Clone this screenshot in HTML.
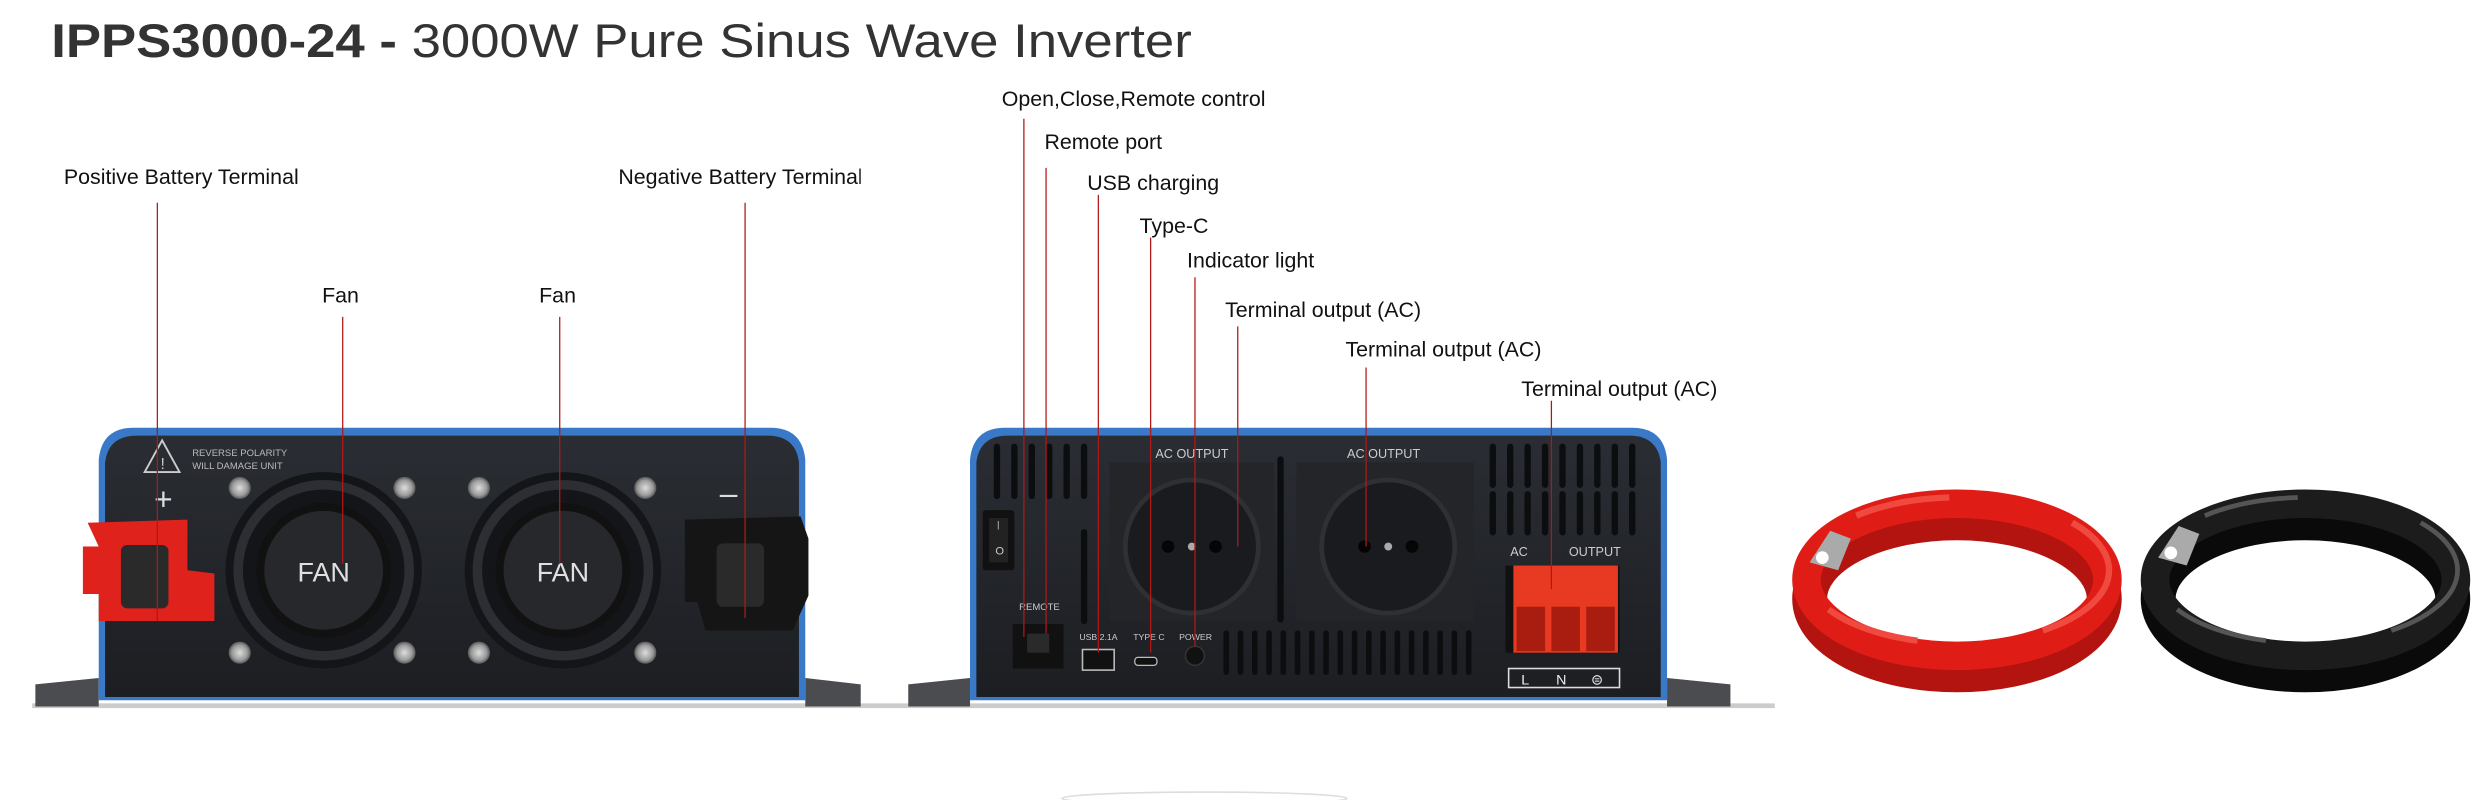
<!DOCTYPE html>
<html><head><meta charset="utf-8"><style>
html,body{margin:0;padding:0;background:#fff;}
svg{display:block;}
text{font-family:"Liberation Sans",sans-serif;}
</style></head><body>
<svg width="2485" height="800" viewBox="0 0 1568 505" xmlns="http://www.w3.org/2000/svg">
<defs>
<linearGradient id="body" x1="0" y1="0" x2="0" y2="1"><stop offset="0" stop-color="#2a2d33"/><stop offset="1" stop-color="#1c1e22"/></linearGradient>
<radialGradient id="screw"><stop offset="0" stop-color="#ddd"/><stop offset="0.7" stop-color="#999"/><stop offset="1" stop-color="#555"/></radialGradient>
</defs>
<rect width="1568" height="505" fill="#fff"/>
<!-- title -->
<text x="32" y="36" font-size="30" fill="#333" textLength="720" lengthAdjust="spacingAndGlyphs"><tspan font-weight="bold">IPPS3000-24 - </tspan>3000W Pure Sinus Wave Inverter</text>

<!-- ground shadows -->
<rect x="20" y="444" width="1100" height="3" fill="#ccc"/>
<ellipse cx="760" cy="504" rx="90" ry="4" fill="none" stroke="#ddd"/>

<!-- LEFT INVERTER -->
<path d="M22 432 L62 428 L62 446 L22 446Z" fill="#4a4c50"/>
<path d="M508 428 L543 432 L543 446 L508 446Z" fill="#4a4c50"/>
<path d="M62 442 L62 290 Q64 270 84 270 L486 270 Q506 270 508 290 L508 442Z" fill="#3a78c8"/>
<path d="M66 440 L66 292 Q68 275 86 275 L484 275 Q502 275 504 292 L504 440Z" fill="url(#body)"/>
<polygon points="102,278 91,298 113,298" fill="none" stroke="#ccc" stroke-width="1.2"/>
<text x="101" y="296" font-size="10" fill="#ccc">!</text>
<text x="121" y="288" font-size="6" fill="#bbb">REVERSE POLARITY</text>
<text x="121" y="296" font-size="6" fill="#bbb">WILL DAMAGE UNIT</text>
<text x="97" y="322" font-size="20" fill="#ddd">+</text>
<text x="454" y="318" font-size="20" fill="#ddd">–</text>
<g>
<circle cx="204" cy="360" r="62" fill="#141518"/>
<circle cx="204" cy="360" r="54" fill="none" stroke="#2c2e33" stroke-width="6"/>
<circle cx="204" cy="360" r="40" fill="#26282c" stroke="#111" stroke-width="5"/>
<text x="204" y="367" font-size="17" fill="#e0e0e0" text-anchor="middle">FAN</text>
<circle cx="355" cy="360" r="62" fill="#141518"/>
<circle cx="355" cy="360" r="54" fill="none" stroke="#2c2e33" stroke-width="6"/>
<circle cx="355" cy="360" r="40" fill="#26282c" stroke="#111" stroke-width="5"/>
<text x="355" y="367" font-size="17" fill="#e0e0e0" text-anchor="middle">FAN</text>
</g>
<g fill="url(#screw)">
<circle cx="151" cy="308" r="7"/><circle cx="255" cy="308" r="7"/><circle cx="151" cy="412" r="7"/><circle cx="255" cy="412" r="7"/>
<circle cx="302" cy="308" r="7"/><circle cx="407" cy="308" r="7"/><circle cx="302" cy="412" r="7"/><circle cx="407" cy="412" r="7"/>
</g>
<path d="M55 330 L118 328 L118 360 L135 362 L135 392 L62 392 L62 375 L52 375 L52 345 L62 345Z" fill="#e0221d"/>
<rect x="76" y="344" width="30" height="40" rx="4" fill="#2a2a2a"/>
<path d="M432 328 L505 326 L510 340 L510 376 L500 398 L445 398 L440 380 L432 380Z" fill="#151515"/>
<rect x="452" y="343" width="30" height="40" rx="4" fill="#2a2a2a"/>

<!-- RIGHT INVERTER -->
<path d="M573 432 L612 428 L612 446 L573 446Z" fill="#4a4c50"/>
<path d="M1052 428 L1092 432 L1092 446 L1052 446Z" fill="#4a4c50"/>
<path d="M612 442 L612 290 Q614 270 634 270 L1030 270 Q1050 270 1052 290 L1052 442Z" fill="#3a78c8"/>
<path d="M616 440 L616 292 Q618 275 636 275 L1028 275 Q1046 275 1048 292 L1048 440Z" fill="url(#body)"/>
<g fill="#0c0d0f">
<rect x="627" y="280" width="4" height="35" rx="2"/><rect x="638" y="280" width="4" height="35" rx="2"/><rect x="649" y="280" width="4" height="35" rx="2"/><rect x="660" y="280" width="4" height="35" rx="2"/><rect x="671" y="280" width="4" height="35" rx="2"/><rect x="682" y="280" width="4" height="35" rx="2"/>
<rect x="682" y="334" width="4" height="60" rx="2"/><rect x="806" y="288" width="4" height="105" rx="2"/>
<rect x="940" y="280" width="4" height="28" rx="2"/><rect x="951" y="280" width="4" height="28" rx="2"/><rect x="962" y="280" width="4" height="28" rx="2"/><rect x="973" y="280" width="4" height="28" rx="2"/><rect x="984" y="280" width="4" height="28" rx="2"/><rect x="995" y="280" width="4" height="28" rx="2"/><rect x="1006" y="280" width="4" height="28" rx="2"/><rect x="1017" y="280" width="4" height="28" rx="2"/><rect x="1028" y="280" width="4" height="28" rx="2"/>
<rect x="940" y="310" width="4" height="28" rx="2"/><rect x="951" y="310" width="4" height="28" rx="2"/><rect x="962" y="310" width="4" height="28" rx="2"/><rect x="973" y="310" width="4" height="28" rx="2"/><rect x="984" y="310" width="4" height="28" rx="2"/><rect x="995" y="310" width="4" height="28" rx="2"/><rect x="1006" y="310" width="4" height="28" rx="2"/><rect x="1017" y="310" width="4" height="28" rx="2"/><rect x="1028" y="310" width="4" height="28" rx="2"/>
</g>
<g fill="#0c0d0f">
<rect x="772" y="398" width="3.5" height="28" rx="1.5"/><rect x="781" y="398" width="3.5" height="28" rx="1.5"/><rect x="790" y="398" width="3.5" height="28" rx="1.5"/><rect x="799" y="398" width="3.5" height="28" rx="1.5"/><rect x="808" y="398" width="3.5" height="28" rx="1.5"/><rect x="817" y="398" width="3.5" height="28" rx="1.5"/><rect x="826" y="398" width="3.5" height="28" rx="1.5"/><rect x="835" y="398" width="3.5" height="28" rx="1.5"/><rect x="844" y="398" width="3.5" height="28" rx="1.5"/><rect x="853" y="398" width="3.5" height="28" rx="1.5"/><rect x="862" y="398" width="3.5" height="28" rx="1.5"/><rect x="871" y="398" width="3.5" height="28" rx="1.5"/><rect x="880" y="398" width="3.5" height="28" rx="1.5"/><rect x="889" y="398" width="3.5" height="28" rx="1.5"/><rect x="898" y="398" width="3.5" height="28" rx="1.5"/><rect x="907" y="398" width="3.5" height="28" rx="1.5"/><rect x="916" y="398" width="3.5" height="28" rx="1.5"/><rect x="925" y="398" width="3.5" height="28" rx="1.5"/>
</g>
<text x="729" y="289" font-size="8" fill="#ccc">AC   OUTPUT</text>
<text x="850" y="289" font-size="8" fill="#ccc">AC   OUTPUT</text>
<rect x="700" y="292" width="104" height="100" fill="#232529"/>
<rect x="818" y="292" width="112" height="100" fill="#232529"/>
<circle cx="752" cy="345" r="42" fill="#1a1b1e" stroke="#2e3034" stroke-width="3"/>
<circle cx="876" cy="345" r="42" fill="#1a1b1e" stroke="#2e3034" stroke-width="3"/>
<g fill="#050505"><circle cx="737" cy="345" r="4"/><circle cx="767" cy="345" r="4"/><circle cx="861" cy="345" r="4"/><circle cx="891" cy="345" r="4"/></g>
<g fill="#aaa"><circle cx="752" cy="345" r="2.5"/><circle cx="876" cy="345" r="2.5"/></g>
<rect x="620" y="322" width="20" height="38" rx="2" fill="#111"/>
<rect x="624" y="327" width="12" height="28" fill="#222"/>
<text x="629" y="333" font-size="6" fill="#ccc">|</text>
<text x="628" y="350" font-size="7" fill="#ccc">O</text>
<text x="643" y="385" font-size="6" fill="#ccc">REMOTE</text>
<rect x="639" y="394" width="32" height="28" fill="#111"/>
<rect x="648" y="400" width="14" height="12" fill="#2a2a2a"/>
<text x="681" y="404" font-size="5.5" fill="#ccc">USB 2.1A</text>
<text x="715" y="404" font-size="5.5" fill="#ccc">TYPE C</text>
<text x="744" y="404" font-size="5.5" fill="#ccc">POWER</text>
<rect x="683" y="410" width="20" height="13" fill="#111" stroke="#bbb"/>
<rect x="716" y="415" width="14" height="5" rx="2" fill="#111" stroke="#bbb" stroke-width="0.8"/>
<circle cx="754" cy="414" r="6" fill="#111" stroke="#333"/>
<text x="953" y="351" font-size="8" fill="#ccc">AC</text>
<text x="990" y="351" font-size="8" fill="#ccc">OUTPUT</text>
<rect x="950" y="357" width="72" height="55" fill="#111"/>
<rect x="955" y="357" width="66" height="55" fill="#e83a22"/>
<g fill="#a81d10"><rect x="957" y="383" width="18" height="28"/><rect x="979" y="383" width="18" height="28"/><rect x="1001" y="383" width="18" height="28"/></g>
<rect x="952" y="422" width="70" height="12" fill="none" stroke="#ddd"/>
<text x="960" y="432" font-size="9" fill="#eee">L</text>
<text x="982" y="432" font-size="9" fill="#eee">N</text>
<text x="1004" y="432" font-size="9" fill="#eee">⊜</text>

<!-- cables -->
<g fill="none">
<ellipse cx="1235" cy="378" rx="93" ry="48" stroke="#b4140f" stroke-width="22"/>
<ellipse cx="1235" cy="366" rx="95" ry="48" stroke="#e01c16" stroke-width="18"/>
<ellipse cx="1235" cy="360" rx="96" ry="46" stroke="#f04a40" stroke-width="4" stroke-dasharray="60 80"/>
<ellipse cx="1455" cy="378" rx="93" ry="48" stroke="#0a0a0a" stroke-width="22"/>
<ellipse cx="1455" cy="366" rx="95" ry="48" stroke="#1c1c1c" stroke-width="18"/>
<ellipse cx="1455" cy="360" rx="96" ry="46" stroke="#555" stroke-width="3" stroke-dasharray="60 80"/>
</g>
<path d="M1142 355 L1155 335 L1168 340 L1160 360Z" fill="#aaa"/>
<circle cx="1150" cy="352" r="4" fill="#fff"/>
<path d="M1362 352 L1375 332 L1388 337 L1380 357Z" fill="#aaa"/>
<circle cx="1370" cy="349" r="4" fill="#fff"/>

<!-- callout lines -->
<g stroke="#b01818" stroke-width="0.8">
<line x1="99" y1="128" x2="99" y2="392"/>
<line x1="216" y1="200" x2="216" y2="356"/>
<line x1="353" y1="200" x2="353" y2="356"/>
<line x1="470" y1="128" x2="470" y2="390"/>
<line x1="646" y1="75" x2="646" y2="402"/>
<line x1="660" y1="106" x2="660" y2="400"/>
<line x1="693" y1="123" x2="693" y2="412"/>
<line x1="726" y1="150" x2="726" y2="412"/>
<line x1="754" y1="175" x2="754" y2="408"/>
<line x1="781" y1="206" x2="781" y2="345"/>
<line x1="862" y1="232" x2="862" y2="345"/>
<line x1="979" y1="253" x2="979" y2="372"/>
</g>

<!-- labels -->
<g font-size="13.5" fill="#111">
<text x="40" y="116">Positive Battery Terminal</text>
<text x="203" y="191">Fan</text>
<text x="340" y="191">Fan</text>
<svg x="0" y="0" width="543" height="505" overflow="hidden"><text x="390" y="116" font-size="13.5" fill="#111">Negative Battery Terminal</text></svg>
<text x="632" y="67">Open,Close,Remote control</text>
<text x="659" y="94">Remote port</text>
<text x="686" y="120">USB charging</text>
<text x="719" y="147">Type-C</text>
<text x="749" y="169">Indicator light</text>
<text x="773" y="200">Terminal output (AC)</text>
<text x="849" y="225">Terminal output (AC)</text>
<text x="960" y="250">Terminal output (AC)</text>
</g>
</svg>
</body></html>
